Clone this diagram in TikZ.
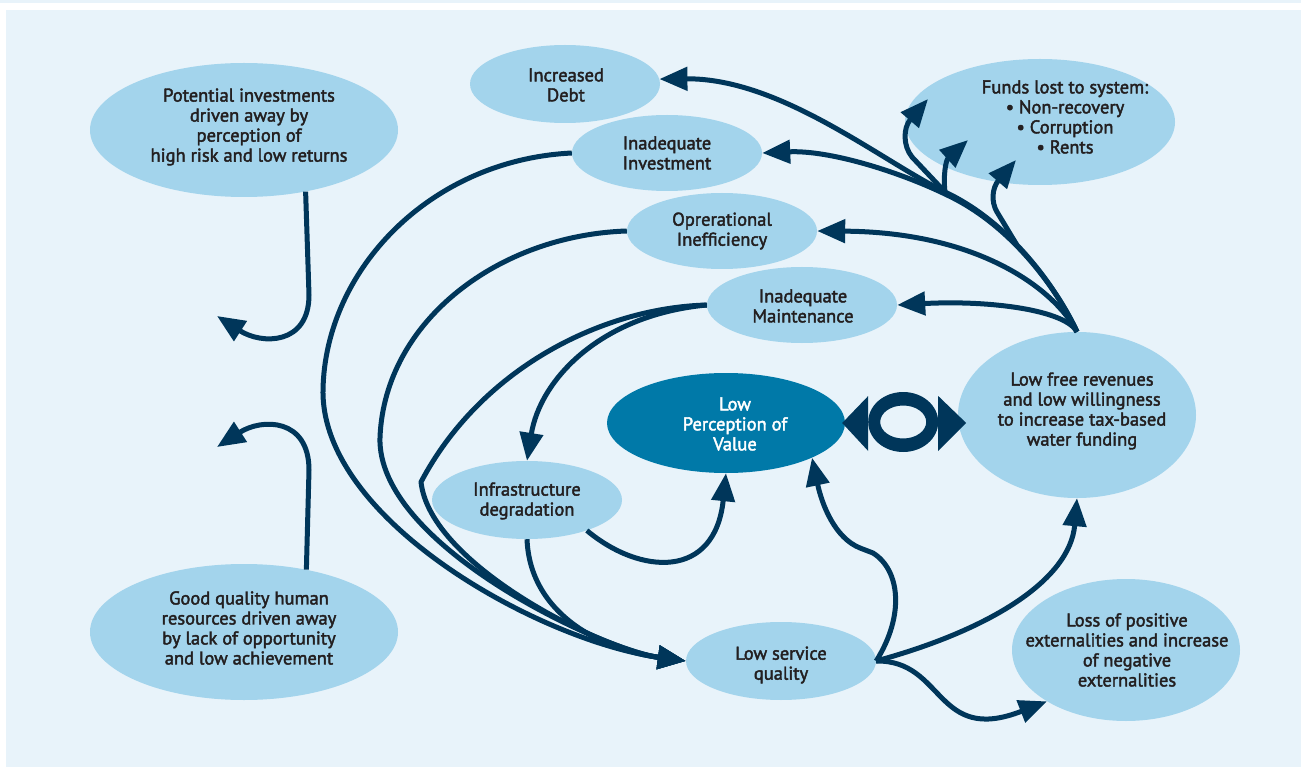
\documentclass[tikz,border=0pt]{standalone}
\usepackage{fontspec}
\setmainfont{PT Sans}[BoldFont=PT Sans, BoldFeatures={FakeBold=2.2}]
\usetikzlibrary{arrows.meta,shapes.geometric,calc}
\definecolor{bgc}{HTML}{E8F3FA}
\definecolor{ell}{HTML}{A3D4EC}
\definecolor{darkell}{HTML}{0079A8}
\definecolor{navy}{HTML}{00365A}
\definecolor{txt}{HTML}{231F20}
\begin{document}
\begin{tikzpicture}[x=1pt,y=-1pt,
  bub/.style={ellipse, fill=ell, inner sep=0pt, draw=none},
  lbl/.style={align=center, text=txt, font=\fontsize{18.5}{20}\selectfont\bfseries, inner sep=0pt},
  conn/.style={draw=navy, line width=5pt, -{Triangle[length=28pt,width=23pt]}, line join=round},
]
\useasboundingbox (0,0) rectangle (1301,767);
\fill[white] (0,0) rectangle (1301,767);
\fill[bgc] (0,0) rectangle (1301,3);
\fill[bgc] (6,10) rectangle (1301,767);

% ellipses
\node[bub, minimum width=308pt, minimum height=134pt] (pot) at (244,130) {};
\node[bub, minimum width=308pt, minimum height=136pt] (hr) at (244,632) {};
\node[bub, minimum width=190pt, minimum height=78pt] (debt) at (565,84) {};
\node[bub, minimum width=190pt, minimum height=76pt] (inv) at (667,153) {};
\node[bub, minimum width=190pt, minimum height=76pt] (ops) at (722,231) {};
\node[bub, minimum width=190pt, minimum height=76pt] (maint) at (802,305) {};
\node[bub, minimum width=270pt, minimum height=126pt] (funds) at (1040,122) {};
\node[bub, minimum width=238pt, minimum height=166pt] (lfr) at (1077,415) {};
\node[bub, fill=darkell, minimum width=238pt, minimum height=100pt] (lpv) at (726,423) {};
\node[bub, minimum width=190pt, minimum height=78pt] (infra) at (527,500) {};
\node[bub, minimum width=190pt, minimum height=78pt] (lsq) at (781,661) {};
\node[bub, minimum width=228pt, minimum height=142pt] (loss) at (1126,650) {};

% free ends
\coordinate (pa) at (217,316);
\coordinate (ha) at (217,447);
\coordinate (f1) at (928,99);
\coordinate (f2) at (968,140);
\coordinate (f3) at (1016,160);

% left outgoing arrows
\draw[conn] (pot.-45) -- (309,295) .. controls (309,345) and (262,345) .. (pa);
\draw[conn] (hr.45) -- (309,470) .. controls (309,418) and (262,418) .. (ha);

% fan from low free revenues
\draw[conn] (lfr.north) .. controls (1060,295) and (1015,225) .. coordinate[pos=0.6] (j3) (945,192) coordinate (j1) .. controls (880,160) and (780,78) .. (debt.3);
\draw[conn] (lfr.north) .. controls (1060,295) and (1015,227) .. (947,195) .. controls (900,172) and (830,150) .. (inv.east);
\draw[conn] (lfr.north) .. controls (1055,290) and (980,232) .. (ops.east);
\draw[conn] (lfr.north) .. controls (1065,310) and (990,300) .. (maint.east);
\draw[conn] (j1) -- (912,157) .. controls (903,146) and (903,128) .. (f1);
\draw[conn] (j1) .. controls (943,175) and (946,160) .. (f2);
\draw[conn] (j3) -- (997,212) .. controls (991,202) and (992,188) .. (f3);

% curves into low service quality
\draw[conn] (inv.west) .. controls (430,160) and (325,270) .. (323,390) .. controls (321,520) and (540,641) .. (lsq.west);
\draw[conn] (ops.west) .. controls (500,235) and (385,320) .. (380,437) .. controls (376,545) and (603,650) .. (lsq.west);
\draw[conn] (maint.west) .. controls (600,308) and (480,370) .. (421,482) .. controls (430,565) and (603,650) .. (lsq.west);
\draw[conn] (maint.west) .. controls (600,315) and (540,380) .. (infra.north);
\draw[conn] (infra.south) .. controls (530,615) and (603,650) .. (lsq.west);
\draw[conn] (infra.-27) .. controls (640,575) and (715,580) .. (lpv.south);

% from low service quality
\draw[conn] (lsq.east) .. controls (905,615) and (900,570) .. (873,553) -- (860,548) .. controls (835,538) and (822,505) .. (lpv.-22);
\draw[conn] (lsq.east) .. controls (990,630) and (1070,580) .. (lfr.south);
\draw[conn] (lsq.east) .. controls (945,660) and (935,745) .. (loss.-147);

% double ring arrow between lpv and lfr
\begin{scope}[shift={(lpv.east)}]
\fill[navy] (-3,0) -- (23,-27) -- (23,28) -- cycle;
\fill[navy,even odd rule] (58,-1) ellipse [x radius=35pt, y radius=30pt] (58,-1) ellipse [x radius=23pt, y radius=16.5pt];
\fill[navy] (121,0) -- (93,-27) -- (93,28) -- cycle;
\end{scope}

% texts
\node[lbl] (potT) at (249,127) {Potential investments\\driven away by\\perception of\\high risk and low returns};
\node[lbl] (hrT) at (249,628) {Good quality human\\resources driven away\\by lack of opportunity\\and low achievement};
\node[lbl] (debtT) at (566,85) {Increased\\Debt};
\node[lbl] (invT) at (667,153) {Inadequate\\Investment};
\node[lbl] (opsT) at (722,231) {Oprerational\\Inefficiency};
\node[lbl] (maintT) at (803,306) {Inadequate\\Maintenance};
\node[lbl] (fundsT) at (1065,117) {Funds lost to system:\\• Non-recovery\\• Corruption\\• Rents};
\node[lbl] (lfrT) at (1082,411) {Low free revenues\\and low willingness\\to increase tax-based\\water funding};
\node[lbl, text=white] (lpvT) at (735,424) {Low\\Perception of\\Value};
\node[lbl] (infraT) at (527,501) {Infrastructure\\degradation};
\node[lbl] (lsqT) at (781,665) {Low service\\quality};
\node[lbl] (lossT) at (1127,650) {Loss of positive\\externalities and increase\\of negative\\externalities};
\end{tikzpicture}
\end{document}
